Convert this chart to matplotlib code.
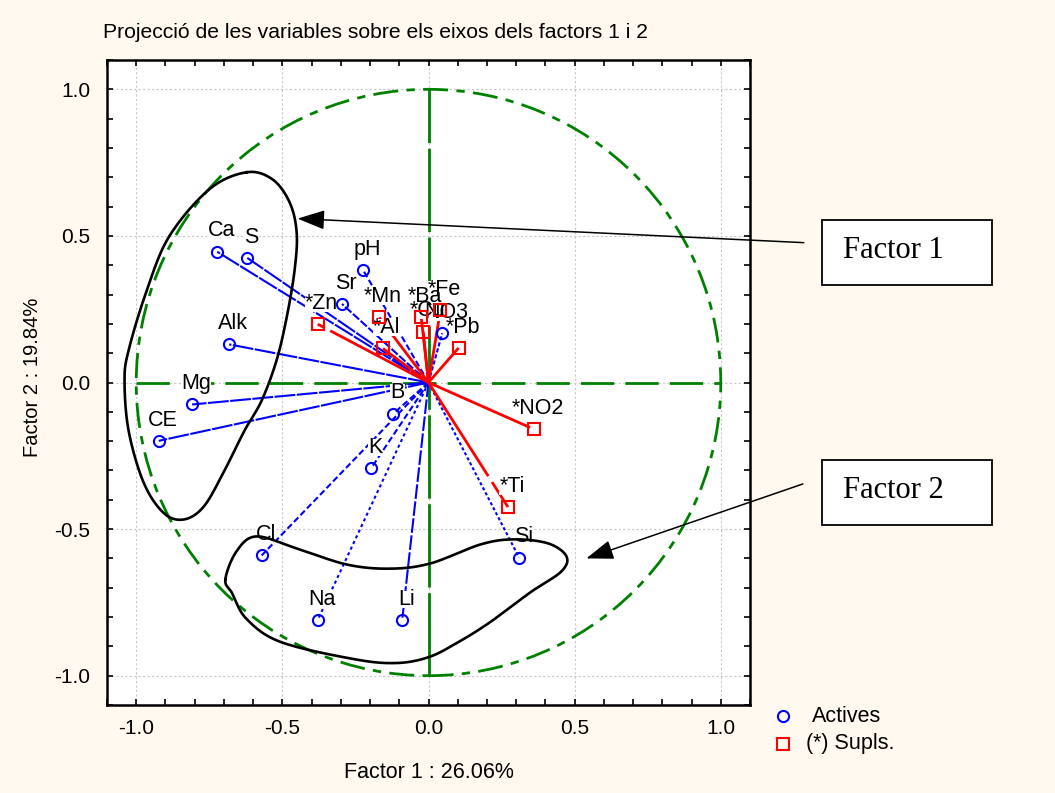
import numpy as np
import matplotlib
matplotlib.use('Agg')
import matplotlib.pyplot as plt
from matplotlib.patches import Circle, Rectangle
from matplotlib.lines import Line2D
from matplotlib.ticker import MultipleLocator, FormatStrFormatter

plt.rcParams['font.family'] = ['Liberation Sans', 'DejaVu Sans']

# ---------------- data ----------------
title = "Projecció de les variables sobre els eixos dels factors 1 i 2"
xlabel = "Factor 1 : 26.06%"
ylabel = "Factor 2 : 19.84%"

active_names = ["Ca", "S", "pH", "Sr", "Alk", "Mg", "CE", "NO3", "B", "K", "Cl", "Na", "Li", "Si"]
active_f1 = [-0.723, -0.620, -0.224, -0.296, -0.682, -0.809, -0.923, 0.047, -0.120, -0.196, -0.571, -0.379, -0.090, 0.310]
active_f2 = [0.446, 0.425, 0.384, 0.268, 0.130, -0.075, -0.199, 0.168, -0.106, -0.292, -0.590, -0.810, -0.810, -0.597]
active_dash = [(10, 0.7), (10, 0.7), (3, 1.5), (4, 1), (10, 0.7), (10, 0.7), (10, 0.7), (2, 1),
               (3, 1.5), (3, 1.5), (3, 1.5), (1.5, 1.5), (7, 1.2), (1.5, 1.2)]

supl_names = ["*Zn", "*Mn", "*Al", "*Ba", "*Cu", "*Fe", "*Pb", "*NO2", "*Ti"]
supl_f1 = [-0.379, -0.169, -0.156, -0.025, -0.018, 0.041, 0.103, 0.360, 0.272]
supl_f2 = [0.199, 0.222, 0.116, 0.223, 0.173, 0.247, 0.118, -0.159, -0.425]

# hand-drawn group outlines (annotation shapes)
blob1_f1 = [-0.623, -0.534, -0.475, -0.451, -0.458, -0.485, -0.520, -0.571, -0.630, -0.699,
            -0.768, -0.836, -0.905, -0.974, -1.026, -1.040, -1.026, -0.967, -0.888, -0.750]
blob1_f2 = [0.717, 0.693, 0.614, 0.511, 0.384, 0.223, 0.075, -0.062, -0.165, -0.302,
            -0.422, -0.467, -0.446, -0.343, -0.165, 0.007, 0.110, 0.305, 0.497, 0.659]
blob2_f1 = [-0.695, -0.657, -0.589, -0.451, -0.279, -0.131, 0.007, 0.179, 0.293, 0.410, 0.472,
            0.454, 0.351, 0.213, 0.103, 0.0, -0.114, -0.258, -0.506, -0.623, -0.671]
blob2_f2 = [-0.672, -0.576, -0.525, -0.566, -0.621, -0.635, -0.617, -0.552, -0.535, -0.549, -0.593,
            -0.645, -0.714, -0.816, -0.885, -0.937, -0.957, -0.943, -0.885, -0.806, -0.720]

box_labels = ["Factor 1", "Factor 2"]
arrow_tails = [(1.284, 0.477), (1.281, -0.346)]
arrow_heads = [(-0.448, 0.559), (0.540, -0.600)]

legend_labels = ["Actives", "(*) Supls."]

# ---------------- figure ----------------
W, H = 1055, 793
BG = '#FFF9EF'
fig = plt.figure(figsize=(W / 100, H / 100), dpi=100, facecolor=BG)
ax = fig.add_axes([107 / W, 1 - 705 / H, 643 / W, 645 / H])
ax.set_facecolor('white')
ax.set_xlim(-1.1, 1.1)
ax.set_ylim(-1.1, 1.1)

for s in ax.spines.values():
    s.set_linewidth(1.8)

ax.xaxis.set_major_locator(MultipleLocator(0.5))
ax.yaxis.set_major_locator(MultipleLocator(0.5))
ax.xaxis.set_minor_locator(MultipleLocator(0.1))
ax.yaxis.set_minor_locator(MultipleLocator(0.1))
ax.tick_params(which='both', direction='in', top=True, right=True, width=1.2, length=4)
ax.tick_params(axis='x', which='major', labelsize=15, pad=10)
ax.tick_params(axis='y', which='major', labelsize=15, pad=12)
ax.xaxis.set_major_formatter(FormatStrFormatter('%.1f'))
ax.yaxis.set_major_formatter(FormatStrFormatter('%.1f'))
ax.grid(True, which='major', color='#C8C8C8', ls=(0, (2, 2)), lw=0.8, zorder=0)
ax.set_axisbelow(True)

# unit circle and axes
ax.add_patch(Circle((0, 0), 1.0, fill=False, ec='#008000', lw=2.0,
                    ls=(0, (9, 3, 3, 3)), zorder=1))
ax.plot([-1, 1], [0, 0], color='#008000', lw=2.0, ls=(0, (12, 4)), zorder=1)
ax.plot([0, 0], [-1, 1], color='#008000', lw=2.0, ls=(0, (30, 2)), zorder=1)

# vectors
for x, y, d in zip(active_f1, active_f2, active_dash):
    ax.plot([0, x], [0, y], color='#0000FF', lw=1.5, ls=(0, d), zorder=2)
for x, y in zip(supl_f1, supl_f2):
    ax.plot([0, x], [0, y], color='#FF0000', lw=2.0, ls=(0, (40, 2.5)), zorder=2.5)

# labels
lab_kw = dict(textcoords='offset points', xytext=(2.9, 15), ha='center', va='center',
              fontsize=15.5, zorder=3.5)
labels = []
for n, x, y in zip(active_names + supl_names, active_f1 + supl_f1, active_f2 + supl_f2):
    labels.append(ax.annotate(n, (x, y), **lab_kw))

# opaque white patches behind the labels (they hide the lines, as in the original)
fig.canvas.draw()
inv = ax.transData.inverted()
for t in labels:
    bb = t.get_window_extent()
    (x0, y0), (x1, y1) = inv.transform([[bb.x0, bb.y0 + 2], [bb.x1, bb.y1 - 2]])
    ax.add_patch(Rectangle((x0, y0), x1 - x0, y1 - y0, fc='white', ec='none', zorder=3))

ax.plot(active_f1, active_f2, 'o', mfc='none', mec='#0000FF', ms=8, mew=1.5, zorder=4)
ax.plot(supl_f1, supl_f2, 's', mfc='none', mec='#FF0000', ms=9, mew=1.5, zorder=4)


def closed_smooth(xs, ys, n=24):
    P = np.column_stack([xs, ys])
    N = len(P)
    t = np.linspace(0, 1, n, endpoint=False)[:, None]
    segs = []
    for i in range(N):
        p0, p1, p2, p3 = P[(i - 1) % N], P[i], P[(i + 1) % N], P[(i + 2) % N]
        segs.append(0.5 * (2 * p1 + (-p0 + p2) * t + (2 * p0 - 5 * p1 + 4 * p2 - p3) * t ** 2
                           + (-p0 + 3 * p1 - 3 * p2 + p3) * t ** 3))
    out = np.vstack(segs + [segs[0][:1]])
    return out[:, 0], out[:, 1]


for bx, by in [(blob1_f1, blob1_f2), (blob2_f1, blob2_f2)]:
    cx, cy = closed_smooth(bx, by)
    ax.plot(cx, cy, color='black', lw=1.9, zorder=6, clip_on=False)

for tail, head in zip(arrow_tails, arrow_heads):
    ax.annotate('', xy=head, xytext=tail, xycoords='data', textcoords='data',
                annotation_clip=False, zorder=7,
                arrowprops=dict(arrowstyle='-|>,head_length=1.4,head_width=0.5',
                                mutation_scale=12, lw=1.1, color='black',
                                shrinkA=0, shrinkB=0))

# titles / axis labels
fig.text(103 / W, 1 - 33 / H, title, fontsize=15.2, ha='left', va='center')
fig.text(429 / W, 1 - 773 / H, xlabel, fontsize=15.5, ha='center', va='center')
fig.text(33 / W, 1 - 377 / H, ylabel, fontsize=14.5, ha='center', va='center', rotation=90)

# factor boxes
for lab, top in zip(box_labels, [220, 460]):
    fig.add_artist(Rectangle((822 / W, 1 - (top + 65) / H), 170 / W, 65 / H,
                             transform=fig.transFigure, fc='white', ec='black', lw=1.3))
    fig.text(843 / W, 1 - (top + 31) / H, lab, fontsize=22, family='Liberation Serif',
             ha='left', va='center')

# legend
fig.add_artist(Line2D([783 / W], [1 - 716 / H], marker='o', mfc='none', mec='#0000FF',
                      ms=8, mew=1.5, transform=fig.transFigure))
fig.add_artist(Line2D([783 / W], [1 - 744 / H], marker='s', mfc='none', mec='#FF0000',
                      ms=9, mew=1.5, transform=fig.transFigure))
fig.text(812 / W, 1 - 716 / H, legend_labels[0], fontsize=15.5, ha='left', va='center')
fig.text(806 / W, 1 - 744 / H, legend_labels[1], fontsize=15.5, ha='left', va='center')

fig.savefig('out.png', dpi=100, facecolor=BG)
